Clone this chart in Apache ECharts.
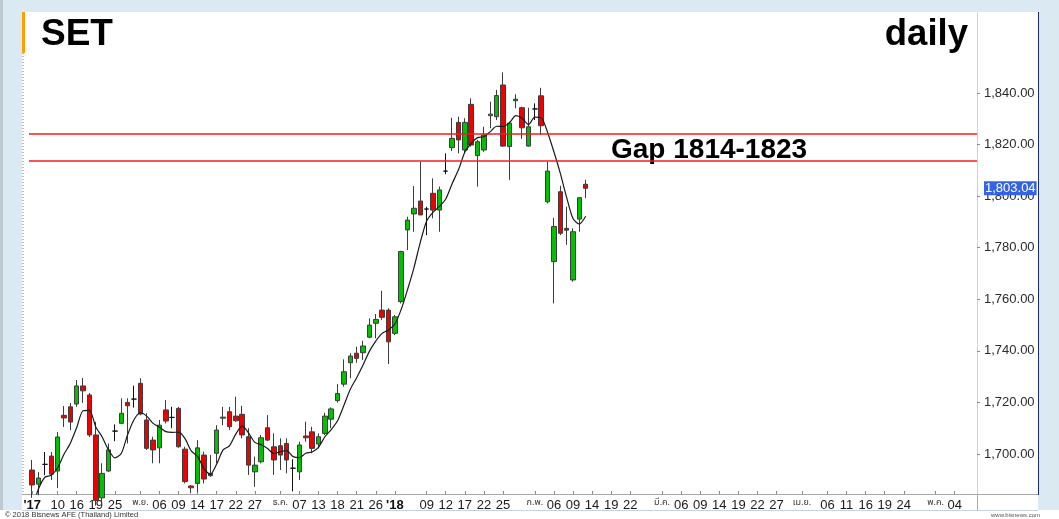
<!DOCTYPE html>
<html>
<head>
<meta charset="utf-8">
<script src="https://cdn.jsdelivr.net/npm/echarts@6/dist/echarts.min.js"></script>
<style>
  html, body { margin: 0; padding: 0; background: #ffffff; }
  #bgBlue { position: absolute; left: 0; top: 0; width: 1059px; height: 510px; background: #dbeaf2; }
  #bgGray { position: absolute; left: 0; top: 0; width: 3px; height: 510px; background: #bfc9d0; }
  #panel { position: absolute; left: 22px; top: 12px; width: 1016px; height: 498px; background: #ffffff; }
  #navy { position: absolute; left: 1038px; top: 12px; width: 1px; height: 483px; background: #1d2a70; }
  #chart { position: absolute; left: 0; top: 0; width: 1059px; height: 519px; }
</style>
</head>
<body>
<div id="bgBlue"></div>
<div id="bgGray"></div>
<div id="panel"></div>
<div id="navy"></div>
<div id="chart"></div>
<script>
// ---- trading days on the axis (past bars with data, then future weekdays) ----
const oct17 = [4,5,6,9,10,11,12,16,17,18,19,20,24,25,27,30,31];
const nov17 = [1,2,3,6,7,8,9,10,13,14,15,16,17,20,21,22,23,24,27,28,29,30];
const dec17 = [1,4,6,7,8,12,13,14,15,18,19,20,21,22,25,26,27,28];
const jan18 = [2,3,4,5,8,9,10,11,12,15,16,17,18,19,22,23,24,25,26,29,30,31];
const feb18 = [1,2,5,6,7,8,9,12,13,14,15,16,19,20,21,22,23,26,27,28];
const mar18 = [1,2,5,6,7,8,9,12,13,14,15,16,19,20,21,22,23,26,27,28,29,30];
const apr18 = [2,3,4,5,6,9,10,11,12,13,16,17,18,19,20,23,24,25,26,27,30];
const may18 = [1,2,3,4,7,8,9];

// ---- x tick labels ----
const tickDates = ['2017-10-04','2017-10-10','2017-10-16','2017-10-19','2017-10-25',
  '2017-11-01','2017-11-06','2017-11-09','2017-11-14','2017-11-17','2017-11-22','2017-11-27',
  '2017-12-01','2017-12-07','2017-12-13','2017-12-18','2017-12-21','2017-12-26',
  '2018-01-02','2018-01-09','2018-01-12','2018-01-17','2018-01-22','2018-01-25',
  '2018-02-01','2018-02-06','2018-02-09','2018-02-14','2018-02-19','2018-02-22',
  '2018-03-01','2018-03-06','2018-03-09','2018-03-14','2018-03-19','2018-03-22','2018-03-27',
  '2018-04-02','2018-04-06','2018-04-11','2018-04-16','2018-04-19','2018-04-24',
  '2018-05-01','2018-05-04'];
const tickTexts = ["'17",'10','16','19','25',
  'พ.ย.','06','09','14','17','22','27',
  'ธ.ค.','07','13','18','21','26',
  "'18",'09','12','17','22','25',
  'ก.พ.','06','09','14','19','22',
  'มี.ค.','06','09','14','19','22','27',
  'เม.ย.','06','11','16','19','24',
  'พ.ค.','04'];

// ---- y tick labels ----
const yTickValues = [1700,1720,1740,1760,1780,1800,1820,1840];

// ---- SET daily OHLC ----
const opens = [1693.8,1688.3,1696.0,1699.2,1693.4,1715.0,1718.3,1719.4,1726.4,1722.9,
  1707.4,1683.0,1693.4,1708.9,1711.9,1720.0,1721.3,1727.4,1713.2,1705.4,
  1702.4,1717.1,1714.2,1717.7,1701.9,1687.6,1688.6,1699.6,1692.5,1700.3,
  1713.9,1716.4,1714.7,1715.4,1706.7,1693.1,1697.0,1710.2,1702.8,1703.2,
  1704.1,1694.5,1693.1,1707.0,1708.6,1703.9,1708.0,1713.5,1720.7,1727.1,
  1735.4,1739.1,1739.3,1745.3,1750.7,1755.8,1755.8,1746.8,1759.1,1786.9,
  1793.1,1798.1,1795.0,1801.1,1794.6,1809.7,1818.8,1828.6,1817.9,1835.6,
  1815.7,1817.9,1831.2,1830.8,1843.1,1819.2,1837.0,1834.3,1819.4,1833.8,
  1838.9,1797.8,1774.6,1801.7,1787.5,1767.5,1791.1,1804.6];
const closes = [1688.0,1690.7,1696.0,1692.2,1706.6,1714.0,1712.4,1726.4,1724.5,1707.4,
  1682.0,1692.5,1701.6,1708.9,1715.8,1718.7,1721.3,1715.5,1702.2,1701.6,
  1711.2,1712.8,1714.2,1702.8,1689.3,1686.9,1702.4,1690.3,1691.6,1709.3,
  1714.3,1710.6,1712.9,1707.4,1695.7,1695.7,1706.3,1705.4,1697.7,1699.6,
  1697.7,1694.5,1703.5,1706.3,1702.2,1706.7,1714.7,1717.5,1723.5,1731.9,
  1738.0,1737.1,1741.9,1750.0,1752.2,1753.0,1743.5,1753.2,1778.5,1790.7,
  1795.3,1792.7,1795.0,1794.6,1802.4,1809.7,1822.4,1821.8,1828.6,1819.8,
  1821.1,1823.7,1831.8,1839.0,1819.4,1828.3,1837.6,1826.5,1826.9,1833.8,
  1827.3,1809.7,1788.2,1785.6,1786.8,1786.2,1799.4,1803.04];
const lows = [1683.0,1684.0,1691.8,1689.9,1686.8,1710.5,1709.3,1718.3,1719.8,1706.6,
  1680.0,1680.0,1693.1,1705.0,1711.9,1704.1,1718.0,1715.0,1701.6,1696.4,
  1696.4,1711.9,1710.0,1702.5,1688.6,1684.8,1685.1,1688.6,1691.2,1696.4,
  1711.2,1709.3,1712.5,1706.1,1691.9,1687.3,1696.4,1705.0,1691.9,1693.8,
  1692.5,1685.5,1689.9,1704.8,1700.3,1702.2,1707.4,1710.0,1719.9,1726.1,
  1729.4,1735.4,1736.5,1744.9,1744.9,1752.0,1734.9,1746.1,1758.4,1779.1,
  1786.2,1792.7,1784.9,1791.4,1786.2,1808.5,1817.5,1816.6,1816.6,1819.2,
  1803.7,1817.2,1826.3,1829.5,1819.2,1806.3,1834.1,1822.2,1819.2,1829.5,
  1823.7,1797.2,1758.4,1784.9,1781.1,1766.8,1786.2,1799.2];
const highs = [1697.7,1693.0,1700.8,1700.8,1708.5,1718.6,1719.8,1728.7,1729.5,1723.7,
  1712.5,1696.4,1704.1,1711.5,1721.6,1721.6,1726.5,1729.4,1715.8,1706.7,
  1713.2,1720.9,1718.3,1718.3,1702.8,1688.0,1705.4,1700.9,1699.6,1711.2,
  1718.3,1718.3,1722.2,1718.7,1710.0,1699.0,1707.4,1715.1,1708.0,1706.1,
  1706.1,1698.0,1704.8,1712.5,1710.6,1708.0,1716.0,1718.1,1727.1,1736.7,
  1739.1,1741.6,1743.9,1752.6,1754.3,1763.3,1756.5,1753.9,1778.8,1792.0,
  1803.9,1813.4,1795.9,1806.9,1803.7,1816.6,1830.4,1830.8,1830.2,1837.9,
  1821.8,1826.9,1836.6,1841.2,1848.0,1828.9,1839.5,1834.7,1834.3,1836.0,
  1842.0,1813.4,1791.6,1804.0,1795.9,1787.5,1799.4,1806.3];
// black average line
const avgLine = [1679.0,1686.5,1691.0,1691.8,1694.7,1699.9,1704.2,1710.3,1716.8,1716.9,
  1710.5,1706.6,1701.6,1698.5,1700.2,1707.5,1713.3,1716.0,1714.7,1711.9,
  1710.4,1708.7,1708.4,1708.5,1706.1,1701.2,1699.1,1694.3,1692.1,1696.1,
  1701.6,1703.2,1707.7,1710.9,1708.2,1704.5,1703.6,1702.1,1700.2,1700.9,
  1701.3,1699.0,1698.6,1700.3,1700.8,1702.6,1706.7,1709.5,1712.9,1718.9,
  1725.1,1729.6,1734.5,1739.8,1743.8,1746.8,1748.1,1750.4,1756.1,1763.8,
  1772.2,1782.1,1790.4,1793.7,1796.0,1798.9,1804.8,1810.2,1817.0,1820.5,
  1822.7,1823.0,1825.0,1827.1,1827.0,1828.4,1831.2,1830.2,1827.7,1830.6,
  1830.4,1824.8,1817.2,1808.9,1799.5,1791.3,1789.2,1792.2];
// gap annotation lines
const gapLevels = [1824.1, 1813.6];
const gapText = 'Gap 1814-1823';

// ---- build ----
const monthBlocks = [['2017-10',oct17],['2017-11',nov17],['2017-12',dec17],['2018-01',jan18],
  ['2018-02',feb18],['2018-03',mar18],['2018-04',apr18],['2018-05',may18]];
const categories = [];
monthBlocks.forEach(([ym, days]) => days.forEach(d => categories.push(ym + '-' + String(d).padStart(2,'0'))));
const candleData = opens.map((o, i) => [o, closes[i], lows[i], highs[i]]);
const lastClose = closes[closes.length - 1];
const tickSet = new Set(tickDates);
const FONT = '"Liberation Sans", Arial, sans-serif';

function fmtNum(v) {
  return v.toLocaleString('en-US', {minimumFractionDigits: 2, maximumFractionDigits: 2});
}

const chart = echarts.init(document.getElementById('chart'), null, {renderer: 'canvas'});
chart.setOption({
  animation: false,
  backgroundColor: 'transparent',
  grid: {left: 29, right: 82, top: 12, bottom: 25, containLabel: false},
  xAxis: {
    type: 'category',
    data: categories,
    boundaryGap: true,
    axisLine: {show: false},
    axisTick: {show: true, inside: true, length: 3, alignWithLabel: true,
      interval: (i, v) => tickSet.has(v), lineStyle: {color: '#888'}},
    splitLine: {show: false},
    axisLabel: {
      interval: (i, v) => tickSet.has(v),
      margin: 5,
      color: '#1a1a1a',
      fontSize: 13,
      fontFamily: FONT,
      hideOverlap: false,
      formatter: (v) => {
        const t = tickTexts[tickDates.indexOf(v)];
        if (t === undefined) return '';
        if (t.charAt(0) === "'") return '{y|' + t + '}';
        if (/[\u0E00-\u0E7F]/.test(t)) return '{m|' + t + '}';
        return t;
      },
      rich: {
        y: {fontWeight: 'bold', fontSize: 13, color: '#111', fontFamily: FONT},
        m: {fontSize: 9, color: '#333', fontFamily: '"Noto Sans Thai", "Noto Sans", "DejaVu Sans", sans-serif'}
      }
    }
  },
  yAxis: {
    type: 'value',
    position: 'right',
    min: 1684.5,
    max: 1871.4,
    scale: true,
    splitLine: {show: false},
    axisLine: {show: true, lineStyle: {color: '#e2cc6a', type: 'dotted', width: 1}},
    axisTick: {show: true, customValues: yTickValues, length: 3, lineStyle: {color: '#888'}},
    axisLabel: {
      customValues: yTickValues.concat([lastClose]),
      margin: 7,
      color: '#2a2a2a',
      fontSize: 13,
      fontFamily: FONT,
      formatter: (v) => v === lastClose ? '{cur|' + fmtNum(v) + '}' : fmtNum(v),
      rich: {
        cur: {backgroundColor: '#3563e6', color: '#ffffff', fontSize: 13, fontFamily: FONT,
          padding: [1, 1, 0, 1]}
      }
    }
  },
  series: [
    {
      type: 'candlestick',
      data: candleData,
      barWidth: 5,
      clip: true,
      z: 2,
      itemStyle: {
        color: '#00c000', color0: '#ee0000',
        borderColor: '#3c3c3c', borderColor0: '#3c3c3c', borderColorDoji: '#111111',
        borderWidth: 1
      },
      markLine: {
        silent: true, symbol: 'none', animation: false,
        label: {show: false},
        lineStyle: {color: '#f21c1c', width: 1.6, type: 'solid'},
        data: gapLevels.map(v => ({yAxis: v}))
      }
    },
    {
      type: 'line',
      data: avgLine,
      showSymbol: false,
      smooth: 0.25,
      clip: true,
      z: 3,
      lineStyle: {color: '#1a1a1a', width: 1.2}
    }
  ],
  graphic: [
    {type: 'rect', silent: true, shape: {x: 22, y: 12, width: 3, height: 41}, style: {fill: '#ffa000'}},
    {type: 'line', silent: true, shape: {x1: 23, y1: 53, x2: 23, y2: 494}, style: {stroke: '#777', lineWidth: 1, lineDash: [1, 2]}},
    {type: 'line', silent: true, shape: {x1: 22, y1: 494.5, x2: 1038, y2: 494.5}, style: {stroke: '#a8a8a8', lineWidth: 1}},
    {type: 'line', silent: true, shape: {x1: 977.5, y1: 494, x2: 977.5, y2: 510}, style: {stroke: '#a8a8a8', lineWidth: 1}},
    {type: 'line', silent: true, shape: {x1: 22, y1: 510.5, x2: 1038, y2: 510.5}, style: {stroke: '#c8d2da', lineWidth: 1}},
    {type: 'text', left: 41, top: 16, silent: true, style: {text: 'SET', fontSize: 37, fontWeight: 'bold', fontFamily: FONT, fill: '#000'}},
    {type: 'text', right: 91, top: 16, silent: true, style: {text: 'daily', fontSize: 36.5, fontWeight: 'bold', fontFamily: FONT, fill: '#000'}},
    {type: 'text', left: 611, top: 136, silent: true, style: {text: gapText, fontSize: 28, fontWeight: 'bold', fontFamily: FONT, fill: '#000'}},
    {type: 'text', left: 5, top: 511, silent: true, style: {text: '© 2018 Bisnews AFE (Thailand) Limited', fontSize: 7.5, fontFamily: FONT, fill: '#333'}},
    {type: 'text', right: 19, top: 512, silent: true, style: {text: 'www.bisnews.com', fontSize: 6, fontFamily: FONT, fill: '#555'}}
  ]
});
</script>
</body>
</html>
